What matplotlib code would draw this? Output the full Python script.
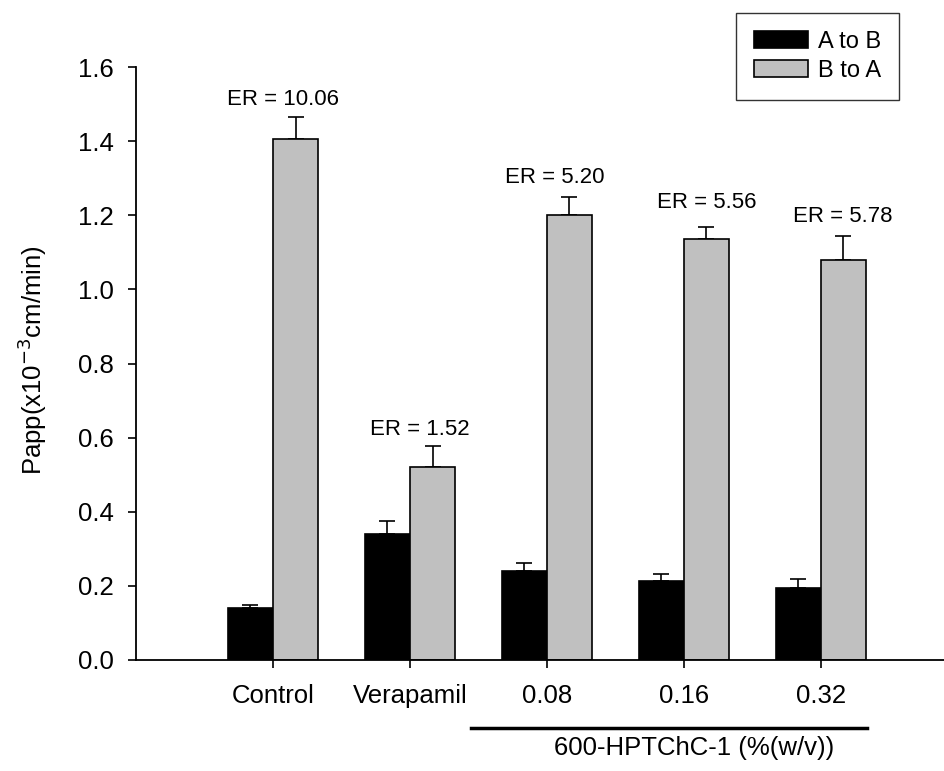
import matplotlib
matplotlib.use("Agg")
import matplotlib.pyplot as plt
import matplotlib.transforms as mtransforms
import numpy as np

plt.rcParams['font.family'] = ['Liberation Sans', 'DejaVu Sans']

categories = ["Control", "Verapamil", "0.08", "0.16", "0.32"]
a_to_b = [0.14, 0.34, 0.24, 0.213, 0.194]
a_to_b_err = [0.008, 0.035, 0.022, 0.02, 0.025]
b_to_a = [1.405, 0.52, 1.20, 1.135, 1.08]
b_to_a_err = [0.06, 0.058, 0.05, 0.033, 0.065]
er_labels = ["ER = 10.06", "ER = 1.52", "ER = 5.20", "ER = 5.56", "ER = 5.78"]
er_x = [0.073, 1.073, 2.055, 3.168, 4.164]
er_y = [1.497, 0.607, 1.287, 1.220, 1.182]
group_label = "600-HPTChC-1 (%(w/v))"

fig = plt.figure(figsize=(9.44, 7.71), dpi=100)
ax = fig.add_axes([0.1441, 0.144, 0.8559, 0.769])

x = np.arange(len(categories))
w = 0.33
ax.bar(x - w/2, a_to_b, w, color='black', edgecolor='black', linewidth=1.2, label='A to B', zorder=2)
ax.bar(x + w/2, b_to_a, w, color='#c0c0c0', edgecolor='black', linewidth=1.2, label='B to A', zorder=2)
ax.errorbar(x - w/2, a_to_b, yerr=[np.zeros(len(x)), a_to_b_err], fmt='none', ecolor='black',
            elinewidth=1.2, capsize=6, capthick=1.2, zorder=1)
ax.errorbar(x + w/2, b_to_a, yerr=[np.zeros(len(x)), b_to_a_err], fmt='none', ecolor='black',
            elinewidth=1.2, capsize=6, capthick=1.2, zorder=1)

for xi, lab, yy in zip(er_x, er_labels, er_y):
    ax.text(xi, yy, lab, ha='center', va='baseline', fontsize=16)

ax.set_xlim(-1.0, 4.9)
ax.set_ylim(0, 1.6)
yt = np.arange(0, 1.61, 0.2)
ax.set_yticks(yt)
ax.set_yticklabels([f"{v:.1f}" for v in yt])
ax.set_xticks(x)
ax.set_xticklabels(categories)
ax.tick_params(axis='both', direction='out', length=6, width=1.2, labelsize=18.5)
ax.tick_params(axis='y', pad=10)
ax.tick_params(axis='x', pad=11)
for s in ['top', 'right']:
    ax.spines[s].set_visible(False)
for s in ['left', 'bottom']:
    ax.spines[s].set_linewidth(1.3)

ax.set_ylabel("Papp(x10$^{-3}$cm/min)", fontsize=18.5)
ax.yaxis.set_label_coords(-0.108, 0.505)

trans = mtransforms.blended_transform_factory(ax.transData, ax.transAxes)
ax.plot([1.445, 4.336], [-0.115, -0.115], color='black', linewidth=2.5, transform=trans, clip_on=False)
ax.text(3.073, -0.160, group_label, transform=trans, ha='center', va='baseline', fontsize=18.5)

leg = ax.legend(loc='upper right', bbox_to_anchor=(0.944, 1.091), borderaxespad=0, fontsize=17,
                frameon=True, fancybox=False, edgecolor='black', handlelength=2.3, handleheight=0.76,
                borderpad=0.75, labelspacing=0.3, handletextpad=0.4)
leg.get_frame().set_linewidth(1.0)

fig.savefig("out.png", dpi=100)
